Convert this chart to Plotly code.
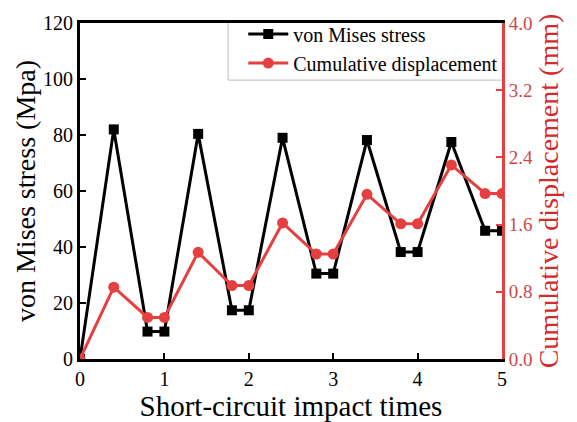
import plotly.graph_objects as go

impact_times = [0, 0.4, 0.8, 1.0, 1.4, 1.8, 2.0, 2.4, 2.8, 3.0, 3.4, 3.8, 4.0, 4.4, 4.8, 5.0]
von_mises_stress = [0, 82, 9.8, 9.8, 80.4, 17.4, 17.4, 79.0, 30.5, 30.5, 78.2, 38.2, 38.2, 77.5, 45.8, 45.8]
cumulative_displacement = [0, 0.855, 0.495, 0.495, 1.27, 0.875, 0.875, 1.62, 1.25, 1.25, 1.96, 1.61, 1.61, 2.31, 1.97, 1.97]

stress_ticks = [0, 20, 40, 60, 80, 100, 120]
disp_ticks = [0.0, 0.8, 1.6, 2.4, 3.2, 4.0]
x_ticks = [0, 1, 2, 3, 4, 5]

RED = "#e5403f"
FONT = "Liberation Serif"

fig = go.Figure()
fig.add_trace(go.Scatter(
    x=impact_times, y=von_mises_stress, name="von Mises stress",
    mode="lines+markers",
    line=dict(color="black", width=3),
    marker=dict(symbol="square", size=10, color="black"),
    yaxis="y",
))
fig.add_trace(go.Scatter(
    x=impact_times, y=cumulative_displacement, name="Cumulative displacement",
    mode="lines+markers",
    line=dict(color=RED, width=3),
    marker=dict(symbol="circle", size=11, color=RED),
    yaxis="y2",
))

# legend frame (left and bottom edges, as in the reference)
legend_left, legend_bottom = 0.351, 0.83
fig.add_shape(type="line", xref="paper", yref="paper", x0=legend_left, x1=legend_left,
              y0=legend_bottom, y1=1, line=dict(color="#bbbbbb", width=1))
fig.add_shape(type="line", xref="paper", yref="paper", x0=legend_left, x1=1,
              y0=legend_bottom, y1=legend_bottom, line=dict(color="#bbbbbb", width=1))

fig.update_layout(
    width=577, height=422,
    margin=dict(l=80, r=75, t=22, b=60),
    plot_bgcolor="white", paper_bgcolor="white",
    font=dict(family=FONT, color="black", size=20),
    showlegend=True,
    legend=dict(
        x=1.003, xanchor="right", y=1.025, yanchor="top",
        bgcolor="rgba(0,0,0,0)", borderwidth=0,
        font=dict(family=FONT, size=20, color="black"),
        tracegroupgap=0, itemwidth=40,
    ),
    xaxis=dict(
        range=[0, 5], tickvals=x_ticks, ticktext=[str(v) for v in x_ticks],
        ticks="inside", ticklen=6, tickwidth=2, tickcolor="black",
        showline=True, linecolor="black", linewidth=3, mirror=True,
        showgrid=False, zeroline=False,
        tickfont=dict(family=FONT, size=20, color="black"),
        title=dict(text="Short-circuit impact times", font=dict(family=FONT, size=29, color="black"), standoff=0),
    ),
    yaxis=dict(
        range=[0, 120], tickvals=stress_ticks, ticktext=[str(v) for v in stress_ticks],
        ticks="inside", ticklen=6, tickwidth=2, tickcolor="black",
        showline=True, linecolor="black", linewidth=3,
        showgrid=False, zeroline=False,
        tickfont=dict(family=FONT, size=20, color="black"),
        title=dict(text="von Mises stress (Mpa)", font=dict(family=FONT, size=28, color="black"), standoff=0),
    ),
    yaxis2=dict(
        range=[0, 4], tickvals=disp_ticks, ticktext=[f"{v:.1f}" for v in disp_ticks],
        overlaying="y", side="right",
        ticks="inside", ticklen=6, tickwidth=2, tickcolor=RED,
        showline=True, linecolor=RED, linewidth=3,
        showgrid=False, zeroline=False,
        tickfont=dict(family=FONT, size=19, color="#c9484c"),
        title=dict(text="Cumulative displacement (mm)", font=dict(family=FONT, size=28, color="#d42a2e"), standoff=4),
    ),
)

fig.write_html("out.html")
